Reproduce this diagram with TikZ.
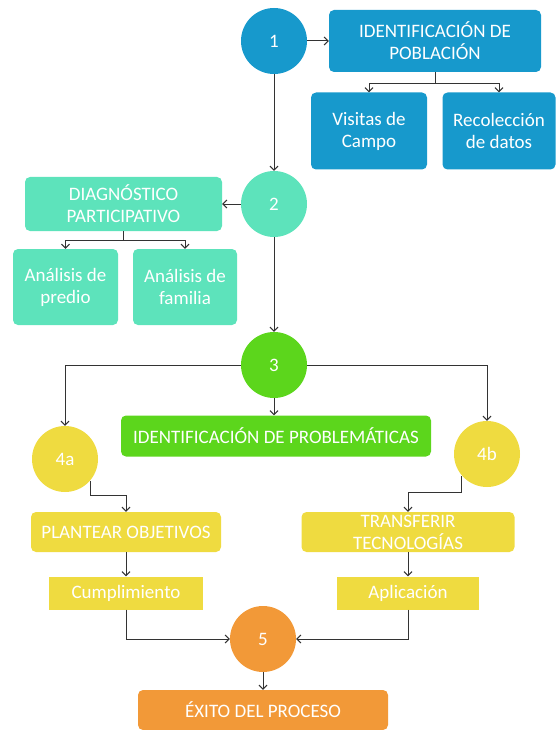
\documentclass[tikz,border=0pt]{standalone}
\usepackage{fontspec}
\setmainfont{Carlito}
\usetikzlibrary{arrows.meta}
\definecolor{azul}{HTML}{1799CC}
\definecolor{turquesa}{HTML}{5DE3BB}
\definecolor{verde}{HTML}{5CD61C}
\definecolor{amarillo}{HTML}{EFDB40}
\definecolor{naranja}{HTML}{F29938}

\begin{document}
\begin{tikzpicture}[x = 1pt, y = -1pt,
  every node/.style = {text = white, font = \fontsize{19}{22}\selectfont},
  circulo/.style = {shape = circle, minimum size = 66pt, inner sep = 0pt},
  caja/.style = {shape = rectangle, rounded corners = 5pt, inner sep = 0pt, align = center},
  flecha/.style = {-{Straight Barb[length = 4pt, width = 8pt]}, line width = 1pt, draw = black!80}]
\useasboundingbox (0,0) rectangle (555,730);

\node[circulo, fill = azul] (1) at (274,41) {1};
\node[caja, fill = azul, minimum width = 212pt, minimum height = 62pt] (poblacion) at (435,41) {IDENTIFICACIÓN DE\\POBLACIÓN};
\node[caja, fill = azul, minimum width = 116pt, minimum height = 77pt] (visitas) at (369,131) {Visitas de\\Campo};
\node[caja, fill = azul, minimum width = 113pt, minimum height = 77pt] (datos) at (499,131) {Recolección\\de datos};

\node[circulo, fill = turquesa] (2) at (274,204) {2};
\node[caja, fill = turquesa, minimum width = 197pt, minimum height = 54pt] (diagnostico) at (123.5,204) {DIAGNÓSTICO\\PARTICIPATIVO};
\node[caja, fill = turquesa, minimum width = 105pt, minimum height = 76pt] (predio) at (65.5,287) {Análisis de\\predio};
\node[caja, fill = turquesa, minimum width = 104pt, minimum height = 76pt] (familia) at (185,287) {Análisis de\\familia};

\node[circulo, fill = verde] (3) at (274,365) {3};
\node[caja, fill = verde, minimum width = 310pt, minimum height = 41pt] (problematicas) at (276,436) {IDENTIFICACIÓN DE PROBLEMÁTICAS};

\node[circulo, fill = amarillo] (4a) at (65,459) {4a};
\node[circulo, fill = amarillo] (4b) at (487,454) {4b};
\node[caja, fill = amarillo, minimum width = 190pt, minimum height = 40pt] (objetivos) at (126,532) {PLANTEAR OBJETIVOS};
\node[caja, fill = amarillo, minimum width = 213pt, minimum height = 40pt] (transferir) at (408,532) {TRANSFERIR\\TECNOLOGÍAS};
\node[caja, sharp corners, fill = amarillo, minimum width = 154pt, minimum height = 33pt] (cumplimiento) at (126,593) {Cumplimiento};
\node[caja, sharp corners, fill = amarillo, minimum width = 142pt, minimum height = 33pt] (aplicacion) at (408,593) {Aplicación};

\node[circulo, fill = naranja] (5) at (263,639) {5};
\node[caja, fill = naranja, minimum width = 250pt, minimum height = 40pt] (exito) at (263,710) {ÉXITO DEL PROCESO};

\draw[flecha] (1) -- (poblacion);
\draw[flecha, -] (poblacion.south) -- ++(0,11) coordinate (m1);
\draw[flecha] (m1) -| (visitas.north);
\draw[flecha] (m1) -| (datos.north);
\draw[flecha] (1) -- (2);

\draw[flecha] (2) -- (diagnostico);
\draw[flecha, -] (diagnostico.south) -- ++(0,9) coordinate (m2);
\draw[flecha] (m2) -| (predio.north);
\draw[flecha] (m2) -| (familia.north);
\draw[flecha] (2) -- (3);

\draw[flecha] (3.west) -| (4a.north);
\draw[flecha] (3.east) -| (4b.north);
\draw[flecha] (3.south) -- (3.south |- problematicas.north);

\draw[flecha] (4a.-41) -- ++(0,15) -| (objetivos.north);
\draw[flecha] (4b.-139) -- ++(0,17) -| (transferir.north);
\draw[flecha] (objetivos) -- (cumplimiento);
\draw[flecha] (transferir) -- (aplicacion);
\draw[flecha] (cumplimiento.south) |- (5.west);
\draw[flecha] (aplicacion.south) |- (5.east);
\draw[flecha] (5) -- (exito);
\end{tikzpicture}
\end{document}
